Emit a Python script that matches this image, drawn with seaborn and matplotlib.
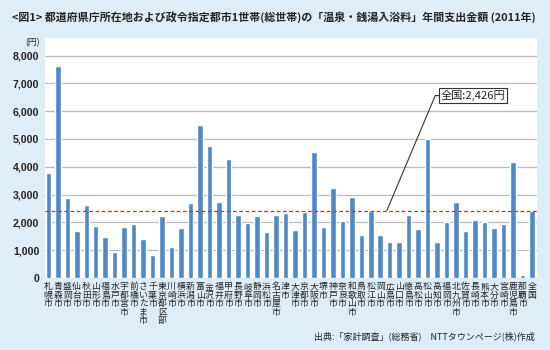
import matplotlib
matplotlib.use("Agg")
import matplotlib.pyplot as plt
import seaborn as sns
import pandas as pd

cities = [
    "札幌市", "青森市", "盛岡市", "仙台市", "秋田市", "山形市", "福島市", "水戸市",
    "宇都宮市", "前橋市", "さいたま市", "千葉市", "東京都区部", "川崎市", "横浜市",
    "新潟市", "富山市", "金沢市", "福井市", "甲府市", "長野市", "岐阜市", "静岡市",
    "浜松市", "名古屋市", "津市", "大津市", "京都市", "大阪市", "堺市", "神戸市",
    "奈良市", "和歌山市", "鳥取市", "松江市", "岡山市", "広島市", "山口市", "徳島市",
    "高松市", "松山市", "高知市", "福岡市", "北九州市", "佐賀市", "長崎市", "熊本市",
    "大分市", "宮崎市", "鹿児島市", "那覇市", "全国",
]
spending = [
    3770, 7620, 2880, 1690, 2610, 1870, 1490, 940,
    1820, 1930, 1390, 830, 2220, 1100, 1810,
    2700, 5510, 4730, 2750, 4290, 2250, 1980, 2220,
    1660, 2270, 2350, 1710, 2370, 4530, 1840, 3230,
    2050, 2920, 1550, 2400, 1550, 1280, 1310, 2270,
    1750, 5010, 1310, 2000, 2730, 1700, 2100, 2020,
    1810, 1930, 4160, 100, 2426,
]
national_avg = 2426
y_ticks = [0, 1000, 2000, 3000, 4000, 5000, 6000, 7000, 8000]

title = "<図1> 都道府県庁所在地および政令指定都市1世帯(総世帯)の「温泉・銭湯入浴料」年間支出金額 (2011年)"
source = "出典:「家計調査」(総務省)　NTTタウンページ(株)作成"

sns.set_theme(style="white")
plt.rcParams["font.family"] = ["Noto Sans CJK JP", "DejaVu Sans"]

bg = "#DDEEF9"
bar_color = "#5089C6"

fig = plt.figure(figsize=(5.5, 3.5), dpi=100, facecolor=bg)
ax = fig.add_axes([45 / 550, 1 - 278 / 350, 492 / 550, 240 / 350])
ax.set_facecolor("white")

df = pd.DataFrame({"city": cities, "yen": spending})
sns.barplot(data=df, x="city", y="yen", color=bar_color, width=0.58,
            saturation=1, ax=ax, zorder=3)

ax.set_ylim(0, 8630)
ax.set_xlim(-0.35, len(cities) - 0.47)
ax.set_yticks(y_ticks)
ax.set_yticklabels([f"{v:,}" for v in y_ticks], family=["Liberation Sans"],
                   fontweight="bold", fontsize=7.6, color="#222222")
ax.yaxis.grid(True, color="#BBBBBB", linewidth=0.9, zorder=0)
ax.tick_params(axis="y", length=0, pad=4)
ax.tick_params(axis="x", length=0, pad=3)
for s in ax.spines.values():
    s.set_visible(False)
ax.set_xlabel("")
ax.set_ylabel("")

ax.set_xticks(range(len(cities)))
ax.set_xticklabels(["\n".join(c) for c in cities], fontsize=6.4,
                   linespacing=0.93, va="top", color="#222222")

# national average reference line
ax.axhline(national_avg, color="#E8262A", linestyle=(0, (3, 2)),
           linewidth=0.9, zorder=4)

# callout for the national average
x_anchor = 35.7
ax.plot([x_anchor, 40.8, 41.4], [national_avg, 6560, 6560],
        color="#333333", linewidth=0.8, zorder=5)
ax.text(41.4, 6560, f"全国:{national_avg:,}円", fontsize=8, va="center",
        ha="left", color="#222222", zorder=6,
        bbox=dict(boxstyle="square,pad=0.15", facecolor="white",
                  edgecolor="#333333", linewidth=0.8))

fig.text(12 / 550, 1 - 17 / 350, title, fontsize=7.9, fontweight="bold",
         ha="left", va="center", color="#222222")
fig.text(33 / 550, 1 - 43 / 350, "(円)", fontsize=6.3, ha="center",
         va="center", color="#222222")
fig.text(535 / 550, 1 - 336 / 350, source, fontsize=6.5, ha="right",
         va="center", color="#222222")

fig.savefig("out.png", dpi=100, facecolor=bg)
